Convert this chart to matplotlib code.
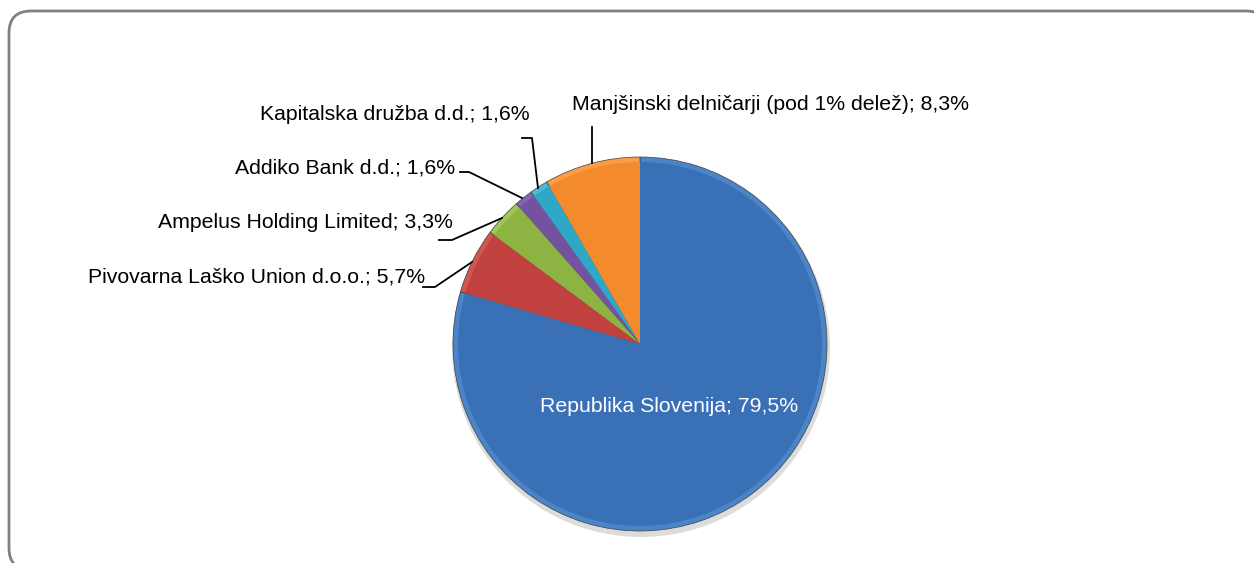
import matplotlib.pyplot as plt
from matplotlib.patches import FancyBboxPatch, Circle

plt.rcParams['font.family'] = ['Liberation Sans', 'DejaVu Sans']

# Delničarji in deleži (%)
labels = ['Republika Slovenija', 'Pivovarna Laško Union d.o.o.', 'Ampelus Holding Limited',
          'Addiko Bank d.d.', 'Kapitalska družba d.d.', 'Manjšinski delničarji (pod 1% delež)']
shares = [79.5, 5.7, 3.3, 1.6, 1.6, 8.3]
colors = ['#3A70B6', '#C0413D', '#8DB443', '#7452A0', '#2FA8C8', '#F38A2C']
rims = ['#4C84C8', '#D05652', '#A0C558', '#8563B2', '#48BAD8', '#F99D48']

W, H = 1254, 563
fig = plt.figure(figsize=(W / 100, H / 100), dpi=100)
ax = fig.add_axes([0, 0, 1, 1])

# okvir z zaobljenimi robovi
frame = FancyBboxPatch((9, H - 570), 1259, 559, boxstyle='round,pad=0,rounding_size=22',
                       fc='white', ec='#808080', lw=2, zorder=0)
ax.add_patch(frame)

cx, cy, r = 640, H - 344, 187

# senca
ax.add_patch(Circle((cx + 1, cy - 4), r + 2, fc='#dcdcdc', ec='none', zorder=1))

ax.pie(shares, colors=rims, startangle=90, counterclock=False, center=(cx, cy), radius=r,
       wedgeprops=dict(edgecolor='#404040', linewidth=0.5), frame=True)
ax.pie(shares, colors=colors, startangle=90, counterclock=False, center=(cx, cy), radius=r - 5,
       wedgeprops=dict(edgecolor='none'), frame=True)
ax.set_xlim(0, W)
ax.set_ylim(0, H)
ax.set_aspect('auto')
ax.axis('off')


def fmt(i):
    return f'{labels[i]}; ' + f'{shares[i]:.1f}%'.replace('.', ',')


fs = 15.3
ax.text(669, H - 407, fmt(0), color='white', fontsize=fs, ha='center', va='center', zorder=5)

# zunanje oznake: (x, y, poravnava) in pripadajoče vodilne črte
outer = {
    1: ((425, 277, 'right'), [(423, 287), (435, 287), (472, 262)]),
    2: ((453, 222, 'right'), [(439, 240), (452, 240), (502, 218)]),
    3: ((455, 168, 'right'), [(460, 172), (469, 172), (522, 198)]),
    4: ((530, 115, 'right'), [(522, 138), (532, 138), (538, 188)]),
    5: ((572, 104, 'left'), [(592, 127), (592, 163)]),
}
for i, ((x, y, ha), pts) in outer.items():
    ax.text(x, H - y, fmt(i), fontsize=fs, ha=ha, va='center', color='black', zorder=5)
    ax.plot([p[0] for p in pts], [H - p[1] for p in pts], color='black', lw=1.3, zorder=4)

fig.savefig('out.png', dpi=100)
